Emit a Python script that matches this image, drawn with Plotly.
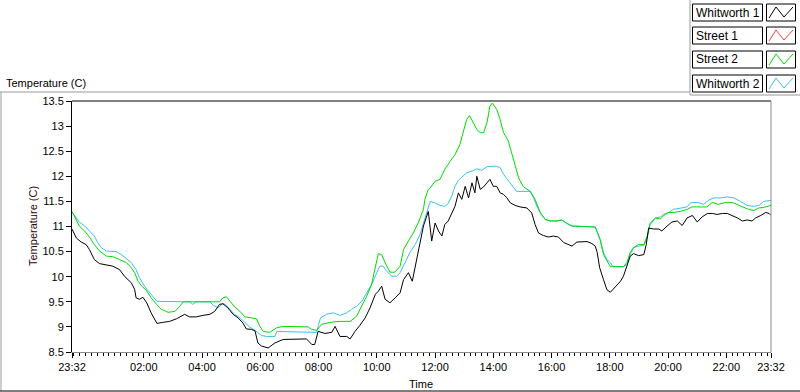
import pandas as pd
import plotly.graph_objects as go

# ---------------- data (minutes after 23:32, temperature in C) ----------------
w1_min = [0, 9, 19, 29, 36, 46, 57, 71, 84, 98, 108, 122, 129, 132, 139, 146, 154, 163, 170, 175,
          187, 201, 215, 232, 242, 256, 270, 284, 294, 304, 311, 321, 332, 342, 352, 359, 370, 377,
          383, 390, 404, 418, 435, 452, 469, 483, 494, 500, 507, 521, 535, 542, 552, 566, 573, 583,
          593, 604, 614, 625, 631, 638, 645, 655, 666, 676, 683, 693, 701, 710, 717, 724, 734, 741,
          748, 755, 762, 768, 775, 782, 789, 796, 803, 810, 817, 824, 830, 834, 841, 848, 855, 861,
          868, 875, 882, 889, 896, 903, 913, 923, 937, 947, 954, 961, 971, 982, 992, 1002, 1013,
          1023, 1030, 1040, 1051, 1061, 1071, 1078, 1082, 1087, 1095, 1102, 1109, 1119, 1130, 1136,
          1143, 1150, 1157, 1167, 1178, 1183, 1188, 1198, 1209, 1215, 1226, 1236, 1247, 1257, 1267,
          1278, 1288, 1298, 1309, 1319, 1329, 1340, 1350, 1360, 1371, 1381, 1391, 1401, 1408, 1419,
          1429, 1436, 1440]
w1_val = [10.95, 10.77, 10.69, 10.64, 10.54, 10.34, 10.26, 10.24, 10.21, 10.14, 10.01, 9.88, 9.75,
          9.58, 9.55, 9.59, 9.48, 9.28, 9.15, 9.07, 9.09, 9.11, 9.16, 9.25, 9.20, 9.20, 9.23, 9.25,
          9.31, 9.45, 9.46, 9.38, 9.25, 9.18, 9.08, 8.96, 8.95, 8.92, 8.68, 8.62, 8.58, 8.68, 8.75,
          8.75, 8.75, 8.76, 8.65, 8.65, 8.91, 8.87, 8.89, 9.01, 8.81, 8.81, 8.76, 8.91, 9.03, 9.18,
          9.38, 9.65, 9.71, 9.81, 9.55, 9.48, 9.58, 9.68, 9.94, 10.08, 9.91, 10.34, 10.64, 11.01,
          11.30, 10.71, 11.07, 10.91, 10.81, 11.04, 11.11, 11.27, 11.40, 11.67, 11.54, 11.80, 11.57,
          11.87, 11.67, 12.00, 11.74, 11.79, 11.87, 11.94, 11.80, 11.80, 11.67, 11.64, 11.57, 11.47,
          11.42, 11.39, 11.37, 11.27, 11.04, 10.87, 10.82, 10.79, 10.81, 10.79, 10.68, 10.64, 10.61,
          10.69, 10.70, 10.70, 10.66, 10.61, 10.48, 10.18, 9.94, 9.74, 9.69, 9.80, 9.91, 10.01,
          10.21, 10.41, 10.46, 10.42, 10.44, 10.64, 10.97, 10.95, 10.95, 10.91, 11.01, 11.09, 11.11,
          11.02, 11.17, 11.22, 11.09, 11.19, 11.26, 11.26, 11.24, 11.26, 11.26, 11.22, 11.17, 11.11,
          11.13, 11.11, 11.17, 11.22, 11.28, 11.26, 11.22]

s1_min = []
s1_val = []

s2_min = [0, 9, 15, 26, 36, 46, 57, 71, 84, 98, 112, 122, 129, 136, 143, 153, 163, 174, 184, 198,
          212, 222, 229, 304, 311, 318, 325, 335, 346, 356, 370, 380, 387, 394, 407, 421, 435, 487,
          494, 504, 514, 531, 552, 573, 586, 597, 607, 617, 624, 631, 638, 645, 655, 665, 676, 683,
          693, 703, 713, 717, 724, 727, 734, 738, 748, 758, 768, 779, 789, 799, 806, 813, 819, 827,
          834, 841, 848, 855, 861, 866, 875, 882, 889, 899, 906, 913, 920, 930, 944, 954, 965, 975,
          985, 999, 1009, 1020, 1030, 1078, 1085, 1088, 1095, 1102, 1109, 1136, 1143, 1150, 1157,
          1167, 1178, 1185, 1191, 1202, 1212, 1219, 1229, 1240, 1253, 1267, 1277, 1308, 1319, 1332,
          1346, 1360, 1370, 1384, 1394, 1405, 1415, 1425, 1440]
s2_val = [11.30, 11.11, 11.01, 10.91, 10.79, 10.64, 10.51, 10.41, 10.40, 10.34, 10.28, 10.18, 10.08,
          9.91, 9.82, 9.73, 9.58, 9.45, 9.35, 9.29, 9.31, 9.41, 9.50, 9.50, 9.58, 9.60, 9.51, 9.40,
          9.31, 9.20, 9.18, 9.16, 9.01, 8.91, 8.89, 8.98, 9.01, 9.00, 8.95, 8.93, 9.05, 9.09, 9.11,
          9.11, 9.21, 9.41, 9.61, 9.84, 10.14, 10.46, 10.44, 10.28, 10.09, 10.09, 10.21, 10.54,
          10.71, 10.87, 11.07, 11.17, 11.34, 11.54, 11.74, 11.77, 11.90, 11.94, 12.14, 12.30, 12.43,
          12.63, 12.87, 13.13, 13.21, 13.07, 12.93, 12.87, 12.87, 13.07, 13.40, 13.46, 13.33, 13.13,
          12.87, 12.70, 12.47, 12.20, 11.97, 11.79, 11.70, 11.54, 11.27, 11.14, 11.11, 11.11, 11.13,
          11.06, 11.01, 10.99, 10.81, 10.74, 10.44, 10.31, 10.20, 10.20, 10.28, 10.48, 10.58, 10.64,
          10.64, 10.81, 11.04, 11.17, 11.15, 11.22, 11.28, 11.28, 11.30, 11.34, 11.39, 11.39, 11.48,
          11.44, 11.48, 11.48, 11.44, 11.37, 11.34, 11.32, 11.37, 11.38, 11.42]

w2_min = [0, 9, 15, 26, 36, 46, 53, 60, 71, 91, 102, 112, 122, 132, 139, 150, 160, 170, 175, 242,
          249, 256, 284, 291, 301, 311, 318, 325, 335, 346, 356, 366, 377, 390, 401, 418, 422, 476,
          504, 507, 512, 524, 538, 552, 566, 576, 586, 597, 607, 617, 628, 634, 641, 648, 659, 669,
          676, 686, 696, 707, 717, 727, 738, 748, 758, 768, 775, 782, 789, 796, 803, 813, 824, 834,
          844, 855, 865, 875, 882, 889, 896, 903, 909, 916, 944, 951, 958, 965, 975, 985, 999, 1009,
          1020, 1030, 1078, 1085, 1088, 1095, 1102, 1109, 1114, 1136, 1143, 1150, 1157, 1167, 1178,
          1185, 1191, 1202, 1212, 1219, 1229, 1239, 1253, 1267, 1274, 1288, 1301, 1311, 1322, 1336,
          1350, 1363, 1377, 1391, 1404, 1415, 1425, 1440]
w2_val = [11.29, 11.17, 11.09, 11.01, 10.91, 10.81, 10.68, 10.58, 10.51, 10.50, 10.44, 10.36, 10.28,
          10.14, 9.98, 9.80, 9.68, 9.58, 9.51, 9.50, 9.45, 9.50, 9.50, 9.43, 9.38, 9.47, 9.43, 9.35,
          9.25, 9.18, 9.09, 9.00, 8.93, 8.83, 8.81, 8.81, 8.91, 8.89, 8.89, 9.01, 9.18, 9.25, 9.28,
          9.23, 9.28, 9.35, 9.41, 9.51, 9.68, 9.84, 10.08, 10.21, 10.21, 10.11, 10.01, 10.01, 10.08,
          10.28, 10.48, 10.64, 10.84, 11.16, 11.50, 11.47, 11.42, 11.40, 11.46, 11.60, 11.80, 11.92,
          11.99, 12.07, 12.10, 12.15, 12.12, 12.19, 12.20, 12.20, 12.17, 12.04, 11.95, 11.87, 11.79,
          11.70, 11.70, 11.57, 11.40, 11.27, 11.14, 11.11, 11.11, 11.13, 11.06, 11.01, 10.99, 10.81,
          10.74, 10.48, 10.34, 10.28, 10.20, 10.20, 10.24, 10.44, 10.58, 10.61, 10.62, 10.78, 11.07,
          11.17, 11.19, 11.24, 11.28, 11.34, 11.37, 11.39, 11.47, 11.48, 11.44, 11.52, 11.57, 11.57,
          11.59, 11.57, 11.50, 11.42, 11.40, 11.42, 11.50, 11.52]

series_names = ["Whitworth 1", "Street 1", "Street 2", "Whitworth 2"]
series_colors = ["#000000", "#ff3c3c", "#00dc00", "#3cbef5"]

x_tick_labels = ["23:32", "02:00", "04:00", "06:00", "08:00", "10:00", "12:00",
                 "14:00", "16:00", "18:00", "20:00", "22:00", "23:32"]
y_tick_vals = [8.5, 9, 9.5, 10, 10.5, 11, 11.5, 12, 12.5, 13, 13.5]

# ---------------- figure ----------------
start = pd.Timestamp("2000-01-01 23:32")
end = start + pd.Timedelta(hours=24)


def tx(mins):
    return [start + pd.Timedelta(minutes=m) for m in mins]


tick_vals = [start] + [pd.Timestamp("2000-01-02") + pd.Timedelta(hours=h) for h in range(2, 24, 2)] + [end]

fig = go.Figure()
draw = [(3, w2_min, w2_val), (2, s2_min, s2_val), (1, s1_min, s1_val), (0, w1_min, w1_val)]
for idx, mins, vals in draw:
    fig.add_trace(go.Scatter(x=tx(mins), y=vals, mode="lines", name=series_names[idx],
                             line=dict(color=series_colors[idx], width=1), showlegend=False))

FONT = "Liberation Sans, Arial, sans-serif"
L, R, T, B = 72, 771, 101, 352
W, H = R - L, B - T


def px(x):
    return (x - L) / W


def py(y):
    return (B - y) / H


shapes = []
# plot frame: top black, right gray
shapes.append(dict(type="line", xref="paper", yref="paper", x0=0, x1=1, y0=1, y1=1,
                   line=dict(color="black", width=1)))
shapes.append(dict(type="line", xref="paper", yref="paper", x0=1, x1=1, y0=0, y1=1,
                   line=dict(color="#8c8c8c", width=1)))
# outer panel lines
shapes.append(dict(type="line", xref="paper", yref="paper", x0=px(0), x1=px(690), y0=py(92), y1=py(92),
                   line=dict(color="#9a9a9a", width=1)))
shapes.append(dict(type="line", xref="paper", yref="paper", x0=px(1), x1=px(1), y0=py(92), y1=py(391),
                   line=dict(color="#9a9a9a", width=1)))
shapes.append(dict(type="line", xref="paper", yref="paper", x0=px(0), x1=px(800), y0=py(391), y1=py(391),
                   line=dict(color="black", width=1)))
shapes.append(dict(type="line", xref="paper", yref="paper", x0=px(690), x1=px(690), y0=py(0), y1=py(95),
                   line=dict(color="#9a9a9a", width=1)))
shapes.append(dict(type="line", xref="paper", yref="paper", x0=px(690), x1=px(800), y0=py(95), y1=py(95),
                   line=dict(color="#9a9a9a", width=1)))

annotations = []
# legend boxes
row_tops = [4, 27, 51, 75]
for i, name in enumerate(series_names):
    t = row_tops[i]
    b = t + 17
    shapes.append(dict(type="rect", xref="paper", yref="paper", x0=px(692.5), x1=px(762.5),
                       y0=py(b), y1=py(t), line=dict(color="black", width=1), fillcolor="white"))
    shapes.append(dict(type="rect", xref="paper", yref="paper", x0=px(766.5), x1=px(795.5),
                       y0=py(b), y1=py(t), line=dict(color="black", width=1), fillcolor="white"))
    xs = [769, 776, 784, 793]
    ys = [b - 3, t + 3, b - 4, t + 3]
    path = "M %f %f L %f %f L %f %f L %f %f" % (px(xs[0]), py(ys[0]), px(xs[1]), py(ys[1]),
                                                px(xs[2]), py(ys[2]), px(xs[3]), py(ys[3]))
    shapes.append(dict(type="path", xref="paper", yref="paper", path=path,
                       line=dict(color=series_colors[i], width=1)))
    annotations.append(dict(xref="paper", yref="paper", x=px(694), y=py(t + 8.5), text=name,
                            showarrow=False, xanchor="left", yanchor="middle",
                            font=dict(family=FONT, size=12, color="black")))

annotations.append(dict(xref="paper", yref="paper", x=px(4), y=py(83), text="Temperature (C)",
                        showarrow=False, xanchor="left", yanchor="middle",
                        font=dict(family=FONT, size=11, color="black")))
annotations.append(dict(xref="paper", yref="paper", x=px(33), y=py(226), text="Temperature (C)",
                        showarrow=False, xanchor="center", yanchor="middle", textangle=-90,
                        font=dict(family=FONT, size=11, color="#2a0a0a")))
annotations.append(dict(xref="paper", yref="paper", x=px(421), y=py(384), text="Time",
                        showarrow=False, xanchor="center", yanchor="middle",
                        font=dict(family=FONT, size=11, color="black")))

fig.update_layout(
    width=800, height=392,
    margin=dict(l=L, r=800 - R, t=T, b=392 - B, pad=0),
    paper_bgcolor="white", plot_bgcolor="white",
    showlegend=False,
    shapes=shapes, annotations=annotations,
    font=dict(family=FONT, size=11, color="black"),
)
fig.update_xaxes(
    type="date", range=[start, end], showgrid=False, zeroline=False,
    showline=True, linecolor="#8c8c8c", linewidth=1,
    tickmode="array", tickvals=tick_vals, ticktext=x_tick_labels,
    ticks="outside", ticklen=5, tickcolor="black", tickwidth=1,
    tickfont=dict(family=FONT, size=11, color="black"),
    minor=dict(ticks="outside", ticklen=3, tickcolor="black", tickwidth=1,
               dtick=12 * 60 * 1000, tick0="2000-01-02 00:00", showgrid=False),
)
fig.update_yaxes(
    range=[8.5, 13.5], showgrid=False, zeroline=False,
    showline=True, linecolor="black", linewidth=1,
    tickmode="array", tickvals=y_tick_vals, ticktext=[("%g" % v) for v in y_tick_vals],
    ticks="outside", ticklen=5, tickcolor="black", tickwidth=1,
    tickfont=dict(family=FONT, size=11, color="black"),
)

fig.write_html("out.html", config={"displayModeBar": False},
               post_script="document.body.style.margin='0';document.body.style.overflow='hidden';")
